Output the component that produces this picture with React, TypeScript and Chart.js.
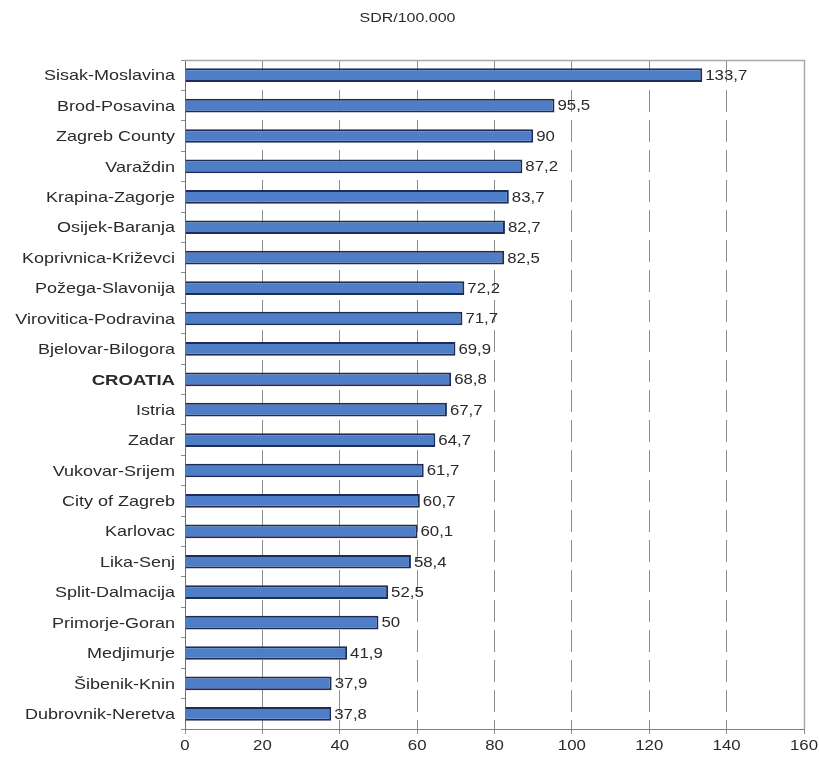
import React, { useEffect, useRef } from "react";
import { Chart, registerables } from "chart.js";

Chart.register(...registerables);

const counties = [
  "Sisak-Moslavina",
  "Brod-Posavina",
  "Zagreb County",
  "Varaždin",
  "Krapina-Zagorje",
  "Osijek-Baranja",
  "Koprivnica-Križevci",
  "Požega-Slavonija",
  "Virovitica-Podravina",
  "Bjelovar-Bilogora",
  "CROATIA",
  "Istria",
  "Zadar",
  "Vukovar-Srijem",
  "City of Zagreb",
  "Karlovac",
  "Lika-Senj",
  "Split-Dalmacija",
  "Primorje-Goran",
  "Medjimurje",
  "Šibenik-Knin",
  "Dubrovnik-Neretva",
];

const sdrValues = [
  133.7, 95.5, 90, 87.2, 83.7, 82.7, 82.5, 72.2, 71.7, 69.9, 68.8, 67.7, 64.7,
  61.7, 60.7, 60.1, 58.4, 52.5, 50, 41.9, 37.9, 37.8,
];

const nationalLabel = "CROATIA";
const titleText = "SDR/100.000";
const xMax = 160;
const xStep = 20;

const FONT = "'Liberation Sans', Arial, sans-serif";
const TEXT_COLOR = "#2a2a2a";
// Text in this figure is set wide; glyphs are stretched horizontally
const STRETCH = 1.2;

function wideText(
  ctx: CanvasRenderingContext2D,
  text: string,
  x: number,
  y: number,
  font: string,
  align: CanvasTextAlign
) {
  ctx.save();
  ctx.font = font;
  ctx.fillStyle = TEXT_COLOR;
  ctx.textAlign = align;
  ctx.textBaseline = "middle";
  ctx.translate(x, y);
  ctx.scale(STRETCH, 1);
  ctx.fillText(text, 0, 0);
  ctx.restore();
}

// Title, category names, axis numbers and value labels
const chartTexts = {
  id: "chartTexts",
  afterDraw(chart: any) {
    const { ctx, chartArea } = chart;
    const xScale = chart.scales.x;
    const yScale = chart.scales.y;

    wideText(ctx, titleText, chart.width / 2 - 2, 18, `13.3px ${FONT}`, "center");

    counties.forEach((name, i) => {
      const y = yScale.getPixelForValue(i);
      const bold = name === nationalLabel;
      const font = bold ? `bold 15.5px ${FONT}` : `15px ${FONT}`;
      wideText(ctx, name, chartArea.left - 10, y + 1, font, "right");
    });

    xScale.ticks.forEach((t: any) => {
      const x = xScale.getPixelForValue(t.value);
      wideText(ctx, String(t.value), x, chartArea.bottom + 17, `14px ${FONT}`, "center");
    });

    const meta = chart.getDatasetMeta(0);
    meta.data.forEach((bar: any, i: number) => {
      const txt = String(sdrValues[i]).replace(".", ",");
      wideText(ctx, txt, bar.x + 3, bar.y + 1, `14px ${FONT}`, "left");
    });
  },
};

// Thin frame on the top and right sides of the plot area
const plotFrame = {
  id: "plotFrame",
  beforeDatasetsDraw(chart: any) {
    const { ctx, chartArea } = chart;
    ctx.save();
    ctx.strokeStyle = "#a8a8a8";
    ctx.lineWidth = 1.5;
    ctx.beginPath();
    ctx.moveTo(chartArea.left, chartArea.top + 0.5);
    ctx.lineTo(chartArea.right + 0.5, chartArea.top + 0.5);
    ctx.lineTo(chartArea.right + 0.5, chartArea.bottom);
    ctx.stroke();
    ctx.restore();
  },
};

export default function App() {
  const canvasRef = useRef<HTMLCanvasElement | null>(null);

  useEffect(() => {
    if (!canvasRef.current) return;
    const chart = new Chart(canvasRef.current, {
      type: "bar",
      data: {
        labels: counties,
        datasets: [
          {
            data: sdrValues,
            backgroundColor: "#4f7ec8",
            borderColor: "#1f2d55",
            borderWidth: 2,
            barPercentage: 0.45,
            categoryPercentage: 1,
          },
        ],
      },
      options: {
        indexAxis: "y",
        animation: false,
        responsive: false,
        maintainAspectRatio: false,
        layout: { padding: { left: 0, right: 15, top: 60, bottom: 0 } },
        plugins: {
          legend: { display: false },
          tooltip: { enabled: false },
          title: { display: false },
        },
        scales: {
          x: {
            min: 0,
            max: xMax,
            ticks: { stepSize: xStep, display: false },
            grid: {
              color: "#8c8c8c",
              lineWidth: 1,
              tickLength: 5,
              tickColor: "#8c8c8c",
            },
            border: { display: true, color: "#808080", dash: [22, 8] },
            afterFit: (scale: any) => {
              scale.height = 31;
            },
          },
          y: {
            offset: true,
            ticks: { display: false },
            grid: {
              offset: true,
              drawOnChartArea: false,
              tickLength: 4,
              color: "#8c8c8c",
            },
            border: { display: true, color: "#707070" },
            afterFit: (scale: any) => {
              scale.width = 185;
            },
          },
        },
      },
      plugins: [plotFrame, chartTexts],
    });
    return () => chart.destroy();
  }, []);

  return (
    <div style={{ position: "absolute", left: 0, top: 0, width: 819, height: 760, background: "#fff" }}>
      <canvas ref={canvasRef} width={819} height={760} />
    </div>
  );
}
